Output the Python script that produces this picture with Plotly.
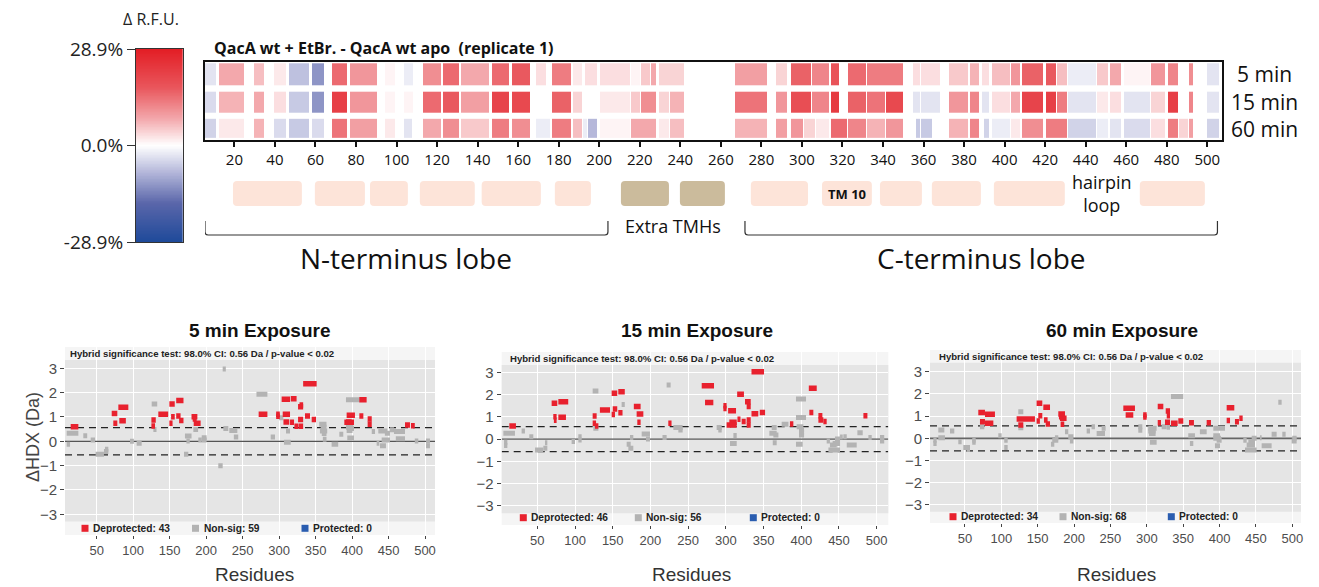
import numpy as np
import plotly.graph_objects as go

W, H = 1319, 587
def fx(p): return p / W
def fy(p): return (H - p) / H

FONT_MY = "Open Sans, Noto Sans, sans-serif"
FONT_GG = "Liberation Sans, Arial, sans-serif"
FONT_NARROW = "Liberation Sans, Arial, sans-serif"

# ---------------- heatmap data (residue start, residue end, delta RFU %) ----------------
CMAX = 28.9
row_labels = ["5 min", "15 min", "60 min"]
hm_5min = [(5.5,11.5,-3),(12.3,25.4,8),(29.5,35.2,6),(39.3,45.9,2),(46.7,57.3,-7),(58.1,64.7,-12),
           (68.3,76.1,15),(76.9,90.8,10),(94.1,99.8,1),(103.5,108.5,-2),(113,122.5,11),(123,131.5,15),
           (132,146,8),(147,156,15),(157,166.5,17),(169,174,3),(176.5,186.5,13),(187,192,2),(193,199.5,3),
           (200.5,215.5,3),(215.5,220.5,1),(220.5,225.5,5),(225.5,228.5,8),(229.5,242.5,4),(267,283.5,9),
           (287,293,4),(294.5,305,16),(305,314,12),(314.5,319,18),(322.5,332,15),(332,350.5,13),(355,358.5,3),
           (358.5,368.5,3),(372.5,382.5,5),(383,388,7),(389,393,3),(394,403,6),(403,408,10),(408.5,419.5,16),
           (420.5,426,17),(426,431.5,6),(431.5,445.5,-2),(445.5,451.5,5),(452,458,8),(459,472,1),
           (472,479.5,10),(480.5,486,12),(491,493.5,11),(500,506.5,-3)]
hm_15min = [(5.5,11.5,-4),(12.3,25.4,7),(29.5,35.2,8),(39.3,45.9,3),(46.7,57.3,-6),(58.1,64.7,-12),
            (68.3,76.1,22),(76.9,90.8,10),(94.1,99.8,1),(103.5,108.5,1),(113,122.5,15),(123,131.5,17),
            (132,146,9),(147,156,21),(157,166.5,20),(176.5,186.5,16),(187,192,4),(193,199.5,0),
            (200.5,215.5,2),(215.5,220.5,5),(220.5,228.5,11),(229.5,235,4),(235,242.5,7),(267,283.5,14),
            (287,293,10),(294.5,305,19),(305,314,12),(314.5,319,23),(322.5,332,16),(332,341.5,14),
            (341.5,350.5,20),(355,358.5,-3),(358.5,368.5,-3),(372.5,382.5,10),(383,388,12),(389,393,-3),
            (394,403,3),(403,408,8),(408.5,419.5,21),(420.5,426,22),(426,431.5,13),(431.5,445.5,-3),
            (445.5,451.5,2),(452,458,3),(459,472,-3),(472,479.5,4),(480.5,486,22),(491,493.5,12),(500,506.5,-3)]
hm_60min = [(5.5,11.5,-5),(12.3,25.4,2),(29.5,35.2,7),(39.3,45.9,-4),(46.7,57.3,-6),(58.1,64.7,-4),
            (68.3,76.1,14),(76.9,90.8,9),(94.1,99.8,2),(103.5,108,-3),(108,108.8,-12),(113,122.5,8),
            (123,131.5,11),(132,146,5),(147,156,13),(157,166.5,11),(169,176,-2),(176.5,186.5,13),(187,192,6),
            (192,194.5,-2),(194.5,199.5,-8),(200.5,215.5,1),(215.5,228.5,8),(229.5,235,2),(235,242.5,6),
            (267,283.5,7),(287,293,9),(294.5,301,10),(301,307,4),(307,314,2),(314.5,322.5,15),(322.5,332,12),
            (332,341.5,7),(341.5,350.5,10),(356.5,358.5,-6),(358.5,364.5,-6),(372.5,382.5,7),(383,388,12),
            (390,393,-5),(394,403,-2),(403,408,2),(408.5,419.5,11),(420.5,431.5,13),(431.5,445.5,-5),
            (445.5,451.5,-2),(452,458,-3),(459,472,-4),(472,479.5,3),(480.5,486,13),(486,491,4),
            (491,493.5,9),(500,506.5,-5)]
hm_ticks = list(range(20, 501, 20))

# topology (residue ranges)
tm_helices = [(19.3,53.3),(59.7,84.4),(86.9,105.6),(111.5,138.6),(142,171.2),(178.1,195.9),
              (274.8,303),(309.9,334.5),(338.5,359.2),(364.1,388.3),(394.7,429.7),(466.7,498.8)]
extra_tmh = [(210.7,234.4),(239.8,262)]
n_lobe = (5.5, 204.3)
c_lobe = (271.9, 505.0)

# ---------------- uptake difference plots (start, end, dHDX Da) ----------------
p5_red = [(14.4,24.9,0.60),(70.6,78.3,1.14),(72.8,78.3,0.74),(79.7,93.4,1.40),(81,90,0.84),(125,131,0.88),
          (125,130,0.63),(134.5,148,1.11),(149.6,157,1.53),(149.6,154,0.74),(152,157,1.01),(159,169,1.68),
          (159,165,1.04),(163,169,0.85),(180,188,1.01),(181.6,187,0.92),(183,192.5,0.74),(272,284,1.11),
          (296,301,1.11),(296,301,1.03),(303.5,315,1.73),(305,315,1.11),(306,314,0.79),(315,320.5,0.78),
          (316,324,1.75),(321,326,0.62),(326,333,0.90),(326,333,1.42),(328,333,1.49),(326.5,333,0.62),
          (333,351.5,2.37),(335.5,342.4,1.04),(344.7,350.6,0.90),(389.4,402.7,0.78),(392.6,404,1.07),
          (391.7,399.4,0.79),(410,420,1.71),(410,415.5,1.04),(421.4,427,0.92),(421.4,427,0.70),
          (472.6,479.4,0.67),(480.8,486,0.64)]
p5_gray = [(8.9,24.9,0.33),(8.9,13.5,-0.12),(31.7,37,0.23),(41.8,47.7,0.05),(48.6,60,-0.53),(60,66,-0.42),
           (61.4,66,-0.33),(95.7,101,0.0),(104.8,111.7,-0.08),(125.4,133,1.53),(127.7,132,0.49),
           (169.7,175.6,-0.53),(171,180,0.22),(173,177.6,0.01),(182.5,189,0.49),(189.3,194,0.05),
           (194,200.7,0.15),(194,200.7,0.05),(216.7,222.7,-1.0),(222.7,227,2.97),(223.6,230.4,0.53),
           (231.8,242.8,0.44),(238,244,0.18),(269,284,1.93),(288.5,294.4,0.18),(300,305.8,0.97),
           (306.7,316,-0.04),(309.5,315,0.42),(355,365,0.70),(357,365,0.58),(356,366,0.42),(358.5,365,0.32),
           (360,365,0.08),(372,381,-0.12),(382.6,388,0.29),(391.7,411,1.71),(391.7,401.7,0.58),
           (392.6,400.7,0.44),(393.5,402.7,0.14),(393.5,402.7,0.53),(427,431.5,0.40),(433.7,437.4,-0.08),
           (436,448.4,0.42),(438.3,446.5,-0.18),(440.6,452,0.05),(445,452,0.33),(452,457.5,0.47),
           (457.5,472.6,0.40),(460,472.6,0.10),(486,490.8,0.01),(501.4,506.8,0.01),(501.4,506.8,-0.18)]
p15_red = [(12.9,21.7,0.59),(69,76.5,1.61),(71.2,75.6,1.01),(72,75.6,0.85),(77.9,91,1.68),(77.9,88,0.98),
           (123.4,128.7,1.04),(123.4,127.9,0.71),(126.5,131,0.59),(133,146.4,1.31),(148.6,156,2.06),
           (148.6,153,1.11),(150,156,1.35),(157.4,166,2.13),(157.4,163,1.19),(178,187,1.46),(181.7,190.6,1.13),
           (182.6,187,0.76),(223.7,228,0.71),(268,284.3,2.40),(272.4,283.4,1.65),(296.7,301,1.50),
           (296.7,301,1.38),(301,306.4,0.64),(303,313.5,1.28),(304.6,314.4,0.76),(305.5,314.4,0.64),
           (315,324,2.01),(315.4,319.4,0.89),(321,326.3,0.79),(325.4,333,1.68),(327.6,333,1.46),
           (327.6,333,0.86),(327.6,333,0.64),(334,350.6,3.03),(334,343,1.14),(345,352,1.20),(385,389.5,0.68),
           (410,420.5,2.28),(410.7,416,1.20),(422.7,428,1.05),(422.7,429.3,0.86),(429.3,433.7,0.79),
           (482.4,487.7,1.05)]
p15_gray = [(5,20.4,0.26),(5.9,10.3,-0.14),(5.9,10.3,-0.29),(29.2,33.6,0.37),(39.4,44.7,0.11),(47,58,-0.49),
            (58,63.3,-0.41),(60.2,63.3,-0.16),(95.5,100,-0.11),(104.4,108.8,0.11),(104.4,108.8,-0.04),
            (123.4,131,2.16),(124.3,131,0.49),(161.8,166,1.56),(168.5,173.8,-0.23),(170.7,177.3,-0.41),
            (172.9,177.3,0.07),(188.4,199.4,0.23),(194.1,199.4,0.01),(216,221.5,0.07),(221.5,226.8,2.43),
            (230.4,242.7,0.52),(237,242.7,0.41),(287.8,294.5,0.52),(290,294.5,0.41),(305.5,314.4,-0.20),
            (310,314.4,0.16),(357.7,367.4,0.26),(360.8,367.4,0.52),(362.2,367.4,-0.16),(363,369.7,0.19),
            (374,383,0.67),(393,406.3,1.80),(393,406.3,0.97),(393,401.9,-0.23),(393.9,402.8,0.56),
            (397,403.7,0.41),(397,403.7,0.31),(397,403.7,0.19),(433.7,438,-0.08),(436,451.4,-0.49),
            (438,447,-0.26),(441.6,451.4,-0.19),(444.7,451.4,0.01),(451.4,455,0.10),(455.8,460.3,0.11),
            (460.3,473.5,-0.26),(474.4,481.5,0.29),(489,493.4,0.07),(504.4,510,0.07),(504.4,510,-0.08)]
p60_red = [(68.3,77.5,1.16),(70.6,77.5,0.75),(77.5,91.2,1.08),(77.5,89,0.68),(123.3,130.2,0.60),
           (121,146.2,0.87),(148.5,156.3,1.58),(148.5,153,0.78),(150.8,156.3,1.02),(157.7,166.9,1.40),
           (158.6,163.6,0.83),(161,166.9,0.65),(178.3,187.5,1.10),(179.2,186.5,0.97),(180.6,189.7,0.90),
           (181.5,186.5,0.63),(267.7,283.7,1.35),(270.9,281.4,1.05),(295,299.8,1.05),(295,299.8,0.96),
           (315,322.7,1.43),(315,319.5,0.70),(326,331.9,1.23),(327.4,331.9,1.02),(325,331.9,0.72),
           (333.2,342.4,0.68),(343.3,350.2,0.78),(358,364.8,0.70),(382.3,388.2,0.70),(409.8,420.3,1.38),
           (409.8,414.4,0.80),(421.2,426.7,0.75),(427.2,431.8,0.90)]
p60_gray = [(6.5,11,-0.08),(6.5,11,-0.23),(13.3,21.6,0.38),(13.3,22.5,0.03),(29.4,35.3,0.33),(40.8,45.4,-0.15),
            (47.7,56.9,-0.41),(52.3,56.9,-0.50),(60,64.7,-0.08),(60,64.7,-0.18),(70.6,76.6,0.52),
            (95.8,100.4,0.12),(104,108.7,-0.08),(104,108.7,-0.41),(123.3,130.2,1.20),(123.3,130.2,0.48),
            (168.2,172.8,-0.27),(170,178.3,-0.08),(173.7,178.3,0.03),(187.5,192,0.30),(192,199,0.07),
            (194.3,199,-0.12),(217.3,221.9,0.33),(224,228.7,0.52),(231,242.5,0.22),(237.9,243.4,0.45),
            (288.3,293.8,0.52),(288.3,293.8,0.37),(302,313.5,0.45),(302,312.1,0.33),(302.9,312.1,0.22),
            (304.3,313.5,-0.18),(320.4,327.3,0.52),(327.3,331.9,0.50),(333.2,350.2,1.88),(357,366.2,0.12),
            (359.3,363.9,-0.23),(373,382.3,0.30),(391.4,407.5,0.45),(391.4,400.6,0.12),(391.4,402,0.0),
            (393.7,400.6,-0.33),(396,402.9,-0.08),(432.7,437.3,-0.08),(435,451,-0.52),(437.3,448.7,-0.30),
            (439.6,448.7,-0.15),(444.2,451,0.0),(455.6,457.9,0.03),(457.9,471.6,-0.33),(471.6,478.5,0.18),
            (480.8,485.4,1.62),(486.3,490.9,0.18),(499.1,506,-0.12),(500,506,0.0)]
panel_titles = ["5 min Exposure", "15 min Exposure", "60 min Exposure"]
legend_counts = [(43, 59, 0), (46, 56, 0), (34, 68, 0)]
CI = 0.56
uptake_xticks = list(range(50, 501, 50))
uptake_yticks = [-3, -2, -1, 0, 1, 2, 3]

# ---------------- styles ----------------
CS = [[0, '#1f4a9a'], [0.2, '#5a66aa'], [0.36, '#b4b7da'], [0.5, '#ffffff'],
      [0.64, '#f3a7ab'], [0.8, '#e9565c'], [1, '#e31e25']]
RED, GRAY, BLUE = '#e8212e', '#b3b3b3', '#2a5db0'

fig = go.Figure()

# main heatmap rows
row_edges = [(2.11, 2.95), (1.05, 1.85), (0.05, 0.80)]
for segs, (y0, y1) in zip([hm_5min, hm_15min, hm_60min], row_edges):
    edges = [segs[0][0]]
    z = []
    for s, e, v in segs:
        s = max(s, edges[-1])
        if s > edges[-1] + 1e-6:
            z.append(None); edges.append(s)
        z.append(v); edges.append(e)
    fig.add_trace(go.Heatmap(x=edges, y=[y0, y1], z=[z], colorscale=CS, zmin=-CMAX, zmax=CMAX,
                             showscale=False, xgap=1, hoverinfo='skip', xaxis='x', yaxis='y'))

# colour bar as gradient heatmap
cb_vals = np.linspace(-CMAX, CMAX, 256)
cb_edges = np.linspace(-CMAX, CMAX, 257)
fig.add_trace(go.Heatmap(x=[0, 1], y=cb_edges, z=cb_vals.reshape(-1, 1), colorscale=CS,
                         zmin=-CMAX, zmax=CMAX, showscale=False, hoverinfo='skip',
                         xaxis='x2', yaxis='y2'))

# uptake panels
panels = [
    dict(red=p5_red, gray=p5_gray, xd=(65, 435), xr=(6.6, 513.7), yd=(535, 346.7), yr=(-3.851, 3.888), g=(-3.30, 3.34)),
    dict(red=p15_red, gray=p15_gray, xd=(501.7, 888.3), xr=(2.8, 515.4), yd=(525, 351.7), yr=(-3.853, 3.925), g=(-3.33, 3.33)),
    dict(red=p60_red, gray=p60_gray, xd=(930, 1301), xr=(1.9, 512), yd=(523.3, 350), yr=(-3.824, 3.977), g=(-3.30, 3.405)),
]

def seg_xy(segs):
    xs, ys = [], []
    for s, e, v in segs:
        xs += [s, e, None]; ys += [v, v, None]
    return xs, ys

shapes, annotations = [], []

def ann(text, x, y, xref='paper', yref='paper', xanchor='center', yanchor='middle', **font):
    d = dict(text=text, x=x, y=y, xref=xref, yref=yref, xanchor=xanchor, yanchor=yanchor,
             showarrow=False, font=font)
    annotations.append(d)
    return d

layout_axes = {}
for i, p in enumerate(panels):
    k = i + 3
    xa, ya = f'x{k}', f'y{k}'
    x0, x1 = p['xr']
    fig.add_trace(go.Scatter(x=[x0, x1], y=[0, 0], mode='lines',
                             line=dict(color='#666666' if i == 2 else '#555555', width=1.8 if i == 2 else 1.2),
                             xaxis=xa, yaxis=ya, hoverinfo='skip', showlegend=False))
    for yv in (CI, -CI):
        fig.add_trace(go.Scatter(x=[x0, x1], y=[yv, yv], mode='lines',
                                 line=dict(color='#222222', width=1.2, dash='7px,5px'),
                                 xaxis=xa, yaxis=ya, hoverinfo='skip', showlegend=False))
    gx, gy = seg_xy(p['gray'])
    fig.add_trace(go.Scatter(x=gx, y=gy, mode='lines', line=dict(color=GRAY, width=5),
                             xaxis=xa, yaxis=ya, hoverinfo='skip', showlegend=False))
    rx, ry = seg_xy(p['red'])
    fig.add_trace(go.Scatter(x=rx, y=ry, mode='lines', line=dict(color=RED, width=5.5),
                             xaxis=xa, yaxis=ya, hoverinfo='skip', showlegend=False))
    shapes.append(dict(type='rect', xref=f'{xa} domain', yref=ya, x0=0, x1=1, y0=p['yr'][0], y1=p['yr'][1],
                       fillcolor='#f5f5f5', line=dict(width=0), layer='below'))
    shapes.append(dict(type='rect', xref=f'{xa} domain', yref=ya, x0=0, x1=1, y0=p['g'][0], y1=p['g'][1],
                       fillcolor='#e5e5e5', line=dict(width=0), layer='below'))
    layout_axes[f'xaxis{k}'] = dict(domain=[fx(p['xd'][0]), fx(p['xd'][1])], range=list(p['xr']), anchor=ya,
                                    tickvals=uptake_xticks, showgrid=True, gridcolor='white', gridwidth=1,
                                    zeroline=False, showline=False, ticks='outside', ticklen=3,
                                    tickcolor='#444', automargin=False,
                                    tickfont=dict(family=FONT_GG, size=13, color='#4d4d4d'))
    layout_axes[f'yaxis{k}'] = dict(domain=[fy(p['yd'][0]), fy(p['yd'][1])], range=list(p['yr']), anchor=xa,
                                    tickvals=uptake_yticks, showgrid=True, gridcolor='white', gridwidth=1,
                                    zeroline=False, showline=False, ticks='outside', ticklen=4,
                                    tickcolor='#444', automargin=False,
                                    tickfont=dict(family=FONT_GG, size=15, color='#4d4d4d'))

# panel texts
title_x = [260, 697, 1122]
hybrid_pos = [(68.3, 353.5), (508.3, 358.3), (937.3, 356.5)]
leg_y = [528.3, 517.7, 516.7]
leg_sq = [(85, 195.5, 305), (523.3, 638.3, 753.3), (953, 1063, 1171.3)]
for i in range(3):
    ann(f"<b>{panel_titles[i]}</b>", fx(title_x[i]), fy(330), family=FONT_GG, size=19, color='#111')
    ann("Residues", fx(title_x[i] - 6), fy(574), family=FONT_GG, size=19, color='#333')
    hx, hy = hybrid_pos[i]
    ann(f"<b>Hybrid significance test: 98.0% CI: {CI} Da / p-value &lt; 0.02</b>", fx(hx), fy(hy),
        xanchor='left', family=FONT_NARROW, size=9.6, color='#222')
    d, n, pr = legend_counts[i]
    for cx, col, lab in zip(leg_sq[i], (RED, GRAY, BLUE),
                            (f"Deprotected: {d}", f"Non-sig: {n}", f"Protected: {pr}")):
        shapes.append(dict(type='rect', xref='paper', yref='paper', x0=fx(cx - 3.5), x1=fx(cx + 3.5),
                           y0=fy(leg_y[i] + 3.5), y1=fy(leg_y[i] - 3.5), fillcolor=col, line=dict(width=0)))
        ann(f"<b>{lab}</b>", fx(cx + 6), fy(leg_y[i]), xanchor='left',
            family=FONT_NARROW, size=10.2, color='#222')

a = ann("ΔHDX (Da)", fx(33), fy(437), family=FONT_GG, size=18, color='#444')
a['textangle'] = -90

# heatmap texts
ann("<b>QacA wt + EtBr. - QacA wt apo \u00a0(replicate 1)</b>", fx(212), fy(48), xanchor='left',
    family=FONT_MY, size=16, color='#111')
for lab, yy in zip(row_labels, [74.3, 101.7, 129.3]):
    ann(lab, fx(1264), fy(yy), family=FONT_MY, size=21, color='#111')
ann("Δ R.F.U.", fx(151), fy(19), family=FONT_MY, size=16, color='#222')

# topology boxes
by0, by1 = fy(206), fy(181)
def rrect(x0, x1, y0, y1, rx=2.0, ry=0.007):
    return (f"M{x0+rx},{y0} L{x1-rx},{y0} Q{x1},{y0} {x1},{y0+ry} L{x1},{y1-ry} Q{x1},{y1} {x1-rx},{y1} "
            f"L{x0+rx},{y1} Q{x0},{y1} {x0},{y1-ry} L{x0},{y0+ry} Q{x0},{y0} {x0+rx},{y0} Z")
for a0, b0 in tm_helices:
    shapes.append(dict(type='path', xref='x', yref='paper', path=rrect(a0, b0, by0, by1),
                       fillcolor='#fde4d9', line=dict(width=0)))
for a0, b0 in extra_tmh:
    shapes.append(dict(type='path', xref='x', yref='paper', path=rrect(a0, b0, by0, by1),
                       fillcolor='#cbbb9c', line=dict(width=0)))
tm10 = tm_helices[7]
ann("<b>TM 10</b>", (tm10[0] + tm10[1]) / 2, fy(193.5), xref='x', family=FONT_MY, size=13, color='#111')
hp_x = (tm_helices[10][1] + tm_helices[11][0]) / 2
ann("hairpin<br>loop", hp_x, fy(193.5), xref='x', family=FONT_MY, size=18, color='#111')
ann("Extra TMHs", (extra_tmh[0][0] + extra_tmh[1][1]) / 2, fy(226), xref='x', family=FONT_MY, size=18,
    color='#111')

# brackets
yt, yb, rr = fy(221), fy(235), 3.0 / H
for (a0, b0), lab in zip([n_lobe, c_lobe], ["N-terminus lobe", "C-terminus lobe"]):
    path = (f"M{a0},{yt} L{a0},{yb+rr} Q{a0},{yb} {a0+1.5},{yb} L{b0-1.5},{yb} Q{b0},{yb} {b0},{yb+rr} L{b0},{yt}")
    shapes.append(dict(type='path', xref='x', yref='paper', path=path, line=dict(color='#333', width=1.2)))
    ann(lab, (a0 + b0) / 2, fy(258), xref='x', family=FONT_MY, size=28, color='#111')

fig.update_layout(
    width=W, height=H, margin=dict(l=0, r=0, t=0, b=0, pad=0, autoexpand=False),
    paper_bgcolor='white', plot_bgcolor='white',
    showlegend=False, shapes=shapes, annotations=annotations,
    xaxis=dict(domain=[fx(205), fx(1221.7)], range=[5.5, 507.1], anchor='y', tickvals=hm_ticks,
               ticks='outside', ticklen=5, tickwidth=1.5, tickcolor='#111', showgrid=False, zeroline=False,
               showline=True, mirror=True, linecolor='#111', linewidth=2, automargin=False,
               tickfont=dict(family=FONT_MY, size=15, color='#111')),
    yaxis=dict(domain=[fy(139.5), fy(62)], range=[0, 3], anchor='x', showticklabels=False, ticks='',
               showgrid=False, zeroline=False, showline=True, mirror=True, linecolor='#111', linewidth=2,
               automargin=False),
    xaxis2=dict(domain=[fx(136), fx(182.7)], range=[0, 1], anchor='y2', showticklabels=False, ticks='',
                showgrid=False, zeroline=False, showline=True, mirror=True, linecolor='#333', linewidth=1,
                automargin=False),
    yaxis2=dict(domain=[fy(242.3), fy(49)], range=[-CMAX, CMAX], anchor='x2', tickvals=[-CMAX, 0, CMAX],
                ticktext=[f"-{CMAX}%", "0.0%", f"{CMAX}%"], ticks='outside', ticklen=8, tickcolor='#333',
                showgrid=False, zeroline=False, showline=True, mirror=True, linecolor='#333', linewidth=1,
                automargin=False, tickfont=dict(family=FONT_MY, size=19, color='#222')),
    **layout_axes,
)

fig.write_html("out.html")
